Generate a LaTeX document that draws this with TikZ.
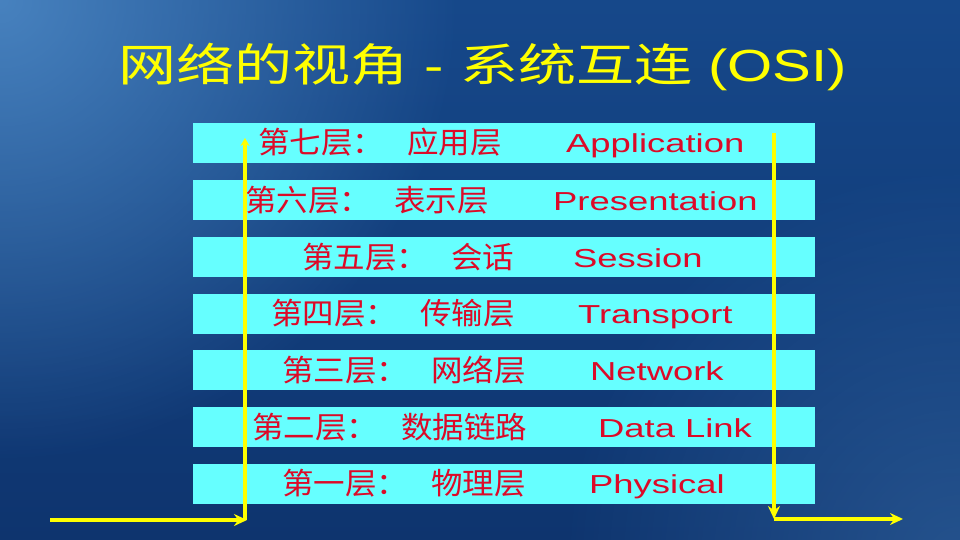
\documentclass[tikz,border=0pt]{standalone}
\usepackage{fontspec}
\setmainfont{Liberation Sans}
\newfontfamily\cjk{Noto Sans CJK SC}
\usetikzlibrary{arrows.meta,fadings}
\definecolor{bgblue}{RGB}{22,72,138}
\definecolor{bglight}{RGB}{80,140,200}
\definecolor{bgdark}{RGB}{14,52,110}
\definecolor{barcyan}{RGB}{102,255,255}
\definecolor{txtred}{RGB}{220,10,40}
\definecolor{ttlyellow}{RGB}{255,255,0}
\tikzfading[name=softglow, inner color=transparent!0, outer color=transparent!100]
\tikzset{
  layerbar/.style={fill=barcyan, draw=none, minimum width=622pt, minimum height=40pt, inner sep=0pt},
  cntext/.style={anchor=base west, inner sep=0pt, text=txtred, font=\cjk\fontsize{30}{36}\selectfont},
  entext/.style={anchor=base west, inner sep=0pt, text=txtred, font=\fontsize{26}{30}\selectfont},
  flow/.style={draw=ttlyellow, line width=4pt, -{Stealth[length=13pt,width=12pt]}},
}
\newcommand{\widetxt}[1]{\scalebox{1.4}[1]{#1}}
\newcommand{\cnlabel}[2]{\scalebox{1.05}[1]{#1：\hspace{22pt}#2}}
\begin{document}
\begin{tikzpicture}[x=1pt,y=-1pt]
\useasboundingbox (0,0) rectangle (960,540);
% background
\shade[top color=bgblue, bottom color=bgdark] (0,0) rectangle (960,540);
\fill[bglight, path fading=softglow, fit fading=true, opacity=0.85] (-460,-460) rectangle (460,460);
\fill[bglight, path fading=softglow, fit fading=true, opacity=0.35] (560,160) rectangle (1360,960);
% title
\node[anchor=base west, inner sep=0pt, text=ttlyellow] (title) at (118,82)
  {\scalebox{1.29}[1]{\fontsize{45}{50}\selectfont{\cjk 网络的视角} - {\cjk 系统互连} (OSI)}};
% bars
\node[layerbar] (b7) at (504,143) {};
\node[layerbar] (b6) at (504,200) {};
\node[layerbar] (b5) at (504,257) {};
\node[layerbar] (b4) at (504,313.5) {};
\node[layerbar] (b3) at (504,370) {};
\node[layerbar] (b2) at (504,427) {};
\node[layerbar] (b1) at (504,483.5) {};
% chinese labels
\node[cntext] (c7) at (258,154) {\cnlabel{第七层}{应用层}};
\node[cntext] (c6) at (245,211) {\cnlabel{第六层}{表示层}};
\node[cntext] (c5) at (302,268) {\cnlabel{第五层}{会话}};
\node[cntext] (c4) at (271,324.5) {\cnlabel{第四层}{传输层}};
\node[cntext] (c3) at (282,381) {\cnlabel{第三层}{网络层}};
\node[cntext] (c2) at (252,438) {\cnlabel{第二层}{数据链路}};
\node[cntext] (c1) at (282,494.5) {\cnlabel{第一层}{物理层}};
% english labels
\node[entext] (e7) at (566,153) {\widetxt{Application}};
\node[entext] (e6) at (553,210) {\widetxt{Presentation}};
\node[entext] (e5) at (573,267) {\widetxt{Session}};
\node[entext] (e4) at (578,323.5) {\widetxt{Transport}};
\node[entext] (e3) at (590,380) {\widetxt{Network}};
\node[entext] (e2) at (598,437) {\widetxt{Data Link}};
\node[entext] (e1) at (589,493.5) {\widetxt{Physical}};
% arrows
\coordinate (inL) at (50,520);
\coordinate (cornerL) at (247,520);
\coordinate (colL) at (245,520);
\coordinate (topL) at (245,138);
\coordinate (topR) at (774,133);
\coordinate (colR) at (774,519);
\coordinate (cornerR) at (774,519);
\coordinate (outR) at (903,519);
\draw[flow] (inL) -- (cornerL);
\draw[flow, -{Stealth[length=8pt,width=9pt]}] (colL) -- (topL);
\draw[flow] (topR) -- (colR);
\draw[flow] (cornerR) -- (outR);
\end{tikzpicture}
\end{document}
